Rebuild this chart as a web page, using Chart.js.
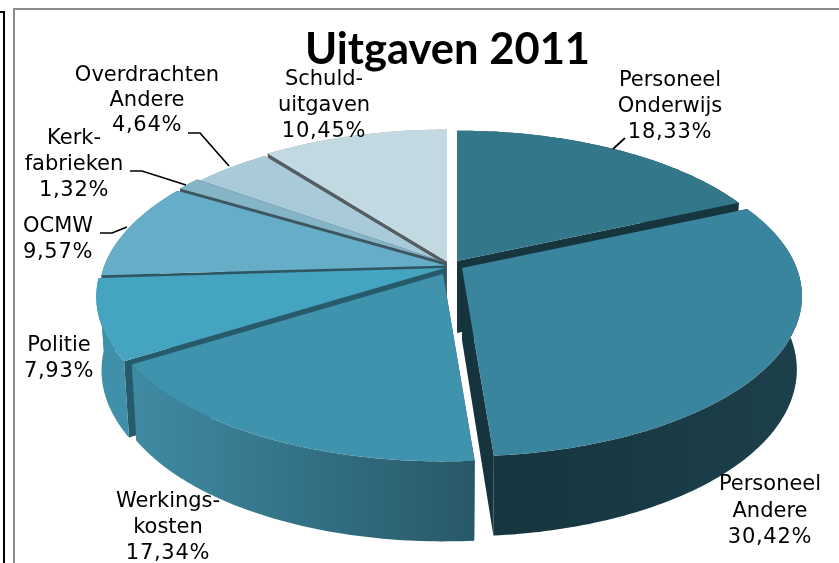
<!DOCTYPE html>
<html><head><meta charset="utf-8">
<style>
html,body{margin:0;padding:0;background:#fff;width:839px;height:563px;overflow:hidden}
#wrap{position:relative;width:839px;height:563px}
canvas{position:absolute;left:0;top:0}
.b{position:absolute}
</style>
<script src="https://cdn.jsdelivr.net/npm/chart.js@4"></script>
</head><body><div id="wrap">
<div class="b" style="left:3px;top:11px;width:2px;height:552px;background:#000"></div>
<div class="b" style="left:0;top:11px;width:5px;height:2px;background:#000"></div>
<div class="b" style="left:13px;top:8px;width:2px;height:555px;background:#8c8c8c"></div>
<div class="b" style="left:13px;top:8px;width:826px;height:2px;background:#8c8c8c"></div>
<canvas id="c" width="839" height="563"></canvas>
</div>
<script>
const categories = [["Personeel","Onderwijs"],["Personeel","Andere"],["Werkings-","kosten"],["Politie"],["OCMW"],["Kerk-","fabrieken"],["Overdrachten","Andere"],["Schuld-","uitgaven"]];
const values = [18.33,30.42,17.34,7.93,9.57,1.32,4.64,10.45];
const topColors = ["#33788a","#3a859e","#4093ad","#45a4c0","#66aec8","#83b5c7","#a9cbd9","#c3d9e2"];
const sideColors = ["#16353e","#15343d","#275a6a","#275a6a","#2f5563","#3f5560","#6f858f","#555c62"];
const wallStops = [["#1b3d47","#1b3d47"],["#16353e","#1c404b"],["#285868","#3f8ba3"],["#3f90a8","#3f90a8"],["#3b7f95","#3b7f95"],["#4d8796","#4d8796"],["#7ea4b0","#7ea4b0"],["#8faab5","#8faab5"]];
// explode of each slice: shift and size
const explode = [[11,-7,.958],[16,0,.97],[-3,6,.965],[-1,0,.995],[0,-2.5,.99],[0,-5.5,.98],[-1,-3.5,.975],[1,-6.5,.97]];
const drawOrder = [0,7,6,5,4,1,3,2];
// label centres: x, first-line y, line step
const labelPos = [[670,81,26],[770,485,26.5],[168,502,26],[59,346,26],[58,227,26],[74,139,26],[147,76,25],[324,80,26]];
const leaders = [[[613,149],[625,138]],[],[],[],[[100,233],[112,233],[127,227]],[[130,171],[142,171],[186,185]],[[188,133],[200,133],[229,166]],[]];

const view = {cx:446,cy:268,kx:345,ky:160,p:.176,depth:72,depthP:8,shrink:.985};
function P(t,r,z,e){
  const u=r*Math.sin(t),v=r*Math.cos(t),d=1+view.p*v;
  const sx=e[2]*(z?view.shrink:1);
  return [view.cx+e[0]+sx*view.kx*u/d, view.cy+e[1]-e[2]*view.ky*v/d+z*(view.depth-view.depthP*v)];
}
function poly(ctx,pts,fill){
  ctx.beginPath();pts.forEach((q,i)=>i?ctx.lineTo(q[0],q[1]):ctx.moveTo(q[0],q[1]));ctx.closePath();
  ctx.fillStyle=fill;ctx.fill();
}
const pie3d={id:'pie3d',
  beforeDatasetDraw(chart){
    const ctx=chart.ctx,arcs=chart.getDatasetMeta(0).data;
    drawOrder.forEach(i=>{
      const a=arcs[i],e=explode[i],t0=a.startAngle+Math.PI/2,t1=a.endAngle+Math.PI/2;
      const n=Math.max(8,Math.ceil((t1-t0)*60)),top=[],bot=[];
      for(let k=0;k<=n;k++){const t=t0+(t1-t0)*k/n;top.push(P(t,1,0,e));bot.push(P(t,1,1,e));}
      const outer=()=>{
        const xs=top.concat(bot).map(q=>q[0]),g=ctx.createLinearGradient(Math.min(...xs),0,Math.max(...xs),0);
        const st=wallStops[i];
        g.addColorStop(0,i==2?st[1]:st[0]);g.addColorStop(1,i==2?st[0]:st[1]);
        poly(ctx,top.concat(bot.slice().reverse()),g);
      };
      const inner=()=>[t0,t1].forEach(t=>poly(ctx,[P(t,0,0,e),P(t,1,0,e),P(t,1,1,e),P(t,0,1,e)],sideColors[i]));
      // front slices show the rim wall over the cut walls, back slices the reverse
      if(Math.cos((t0+t1)/2)<0){inner();outer();}else{outer();inner();}
      poly(ctx,[P(t0,0,0,e)].concat(top),a.options.backgroundColor);
    });
    return false;
  },
  afterDatasetsDraw(chart){
    const ctx=chart.ctx;
    ctx.save();
    ctx.strokeStyle="#000";ctx.lineWidth=1.7;
    leaders.forEach(l=>{if(!l.length)return;ctx.beginPath();l.forEach((q,i)=>i?ctx.lineTo(q[0],q[1]):ctx.moveTo(q[0],q[1]));ctx.stroke();});
    ctx.fillStyle="#000";ctx.font='21px "DejaVu Sans"';ctx.textAlign="center";ctx.textBaseline="middle";
    categories.forEach((lines,i)=>{
      const [x,y,st]=labelPos[i];
      lines.forEach((s,k)=>ctx.fillText(s,x,y+k*st));
      ctx.letterSpacing='0.7px';
      ctx.fillText(values[i].toFixed(2).replace('.',',')+'%',x,y+lines.length*st);
      ctx.letterSpacing='0px';
    });
    ctx.restore();
  }
};
new Chart(document.getElementById('c'),{
  type:'pie',
  data:{labels:categories.map(c=>c.join(' ')),datasets:[{data:values,backgroundColor:topColors,borderWidth:0}]},
  options:{responsive:false,animation:false,layout:{padding:{left:56}},
    plugins:{legend:{display:false},tooltip:{enabled:false},
      title:{display:true,text:'Uitgaven 2011',color:'#000',font:{family:'Lato',size:43.5,weight:'bold'},padding:{top:24,bottom:0}}}},
  plugins:[pie3d]
});
</script>
</body></html>
